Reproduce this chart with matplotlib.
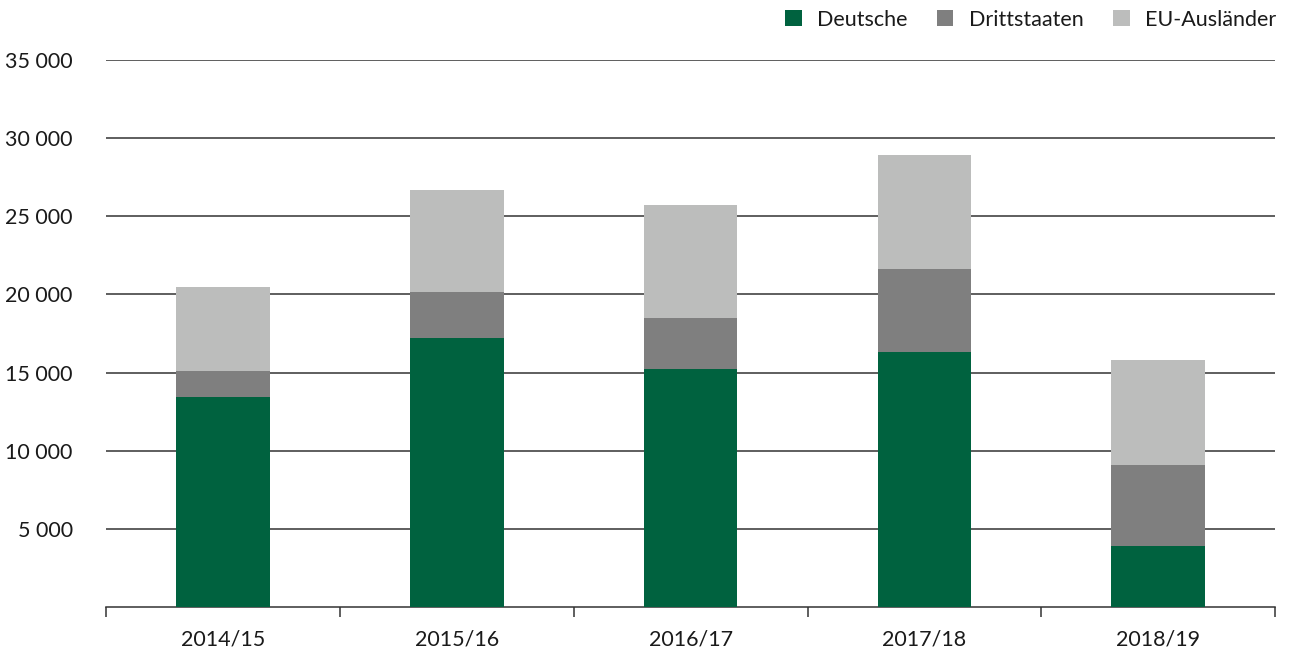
import numpy as np
import matplotlib.pyplot as plt
from matplotlib.ticker import FuncFormatter

plt.rcParams['font.family'] = ['Lato', 'DejaVu Sans']

years = ['2014/15', '2015/16', '2016/17', '2017/18', '2018/19']
deutsche = [13450, 17200, 15230, 16300, 3900]
dritt = [1650, 2950, 3260, 5320, 5180]
eu = [5370, 6530, 7230, 7300, 6720]

green = '#00623f'
dgray = '#7f7f7f'
lgray = '#bcbdbc'

fig = plt.figure(figsize=(12.9, 6.55), dpi=100)
ax = fig.add_axes([0.0822, 0.0733, 0.9063, 0.8351])

x = np.arange(len(years))
w = 0.4
ax.bar(x, deutsche, w, color=green, label='Deutsche', zorder=3)
ax.bar(x, dritt, w, bottom=deutsche, color=dgray, label='Drittstaaten', zorder=3)
bot2 = np.array(deutsche) + np.array(dritt)
ax.bar(x, eu, w, bottom=bot2, color=lgray, label='EU-Ausländer', zorder=3)

ax.set_xlim(-0.5, len(years) - 0.5)
ax.set_ylim(0, 35000)
ax.set_yticks(np.arange(5000, 35001, 5000))
ax.yaxis.set_major_formatter(FuncFormatter(lambda v, p: f'{int(v):,}'.replace(',', ' ')))
ax.grid(axis='y', color='#333333', lw=1.1, zorder=0)
ax.tick_params(axis='y', length=0, pad=24, labelsize=15.5, labelcolor='#1a1a1a')

ax.set_xticks(x)
ax.set_xticklabels(years)
ax.set_xticks(np.arange(-0.5, len(years)), minor=True)
ax.tick_params(axis='x', which='major', length=0, pad=16, labelsize=15.5, labelcolor='#1a1a1a')
ax.tick_params(axis='x', which='minor', length=7, width=1.1, color='#333333', direction='out')

for s in ['top', 'right', 'left']:
    ax.spines[s].set_visible(False)
ax.spines['bottom'].set_color('#333333')
ax.spines['bottom'].set_linewidth(1.1)

leg = ax.legend(loc='lower right', bbox_to_anchor=(1.008, 1.04), ncol=3, frameon=False,
                fontsize=15.5, handlelength=0.75, handleheight=0.75, handletextpad=0.7,
                columnspacing=1.4, borderaxespad=0)
for t in leg.get_texts():
    t.set_color('#1a1a1a')

fig.savefig('out.png', dpi=100)
